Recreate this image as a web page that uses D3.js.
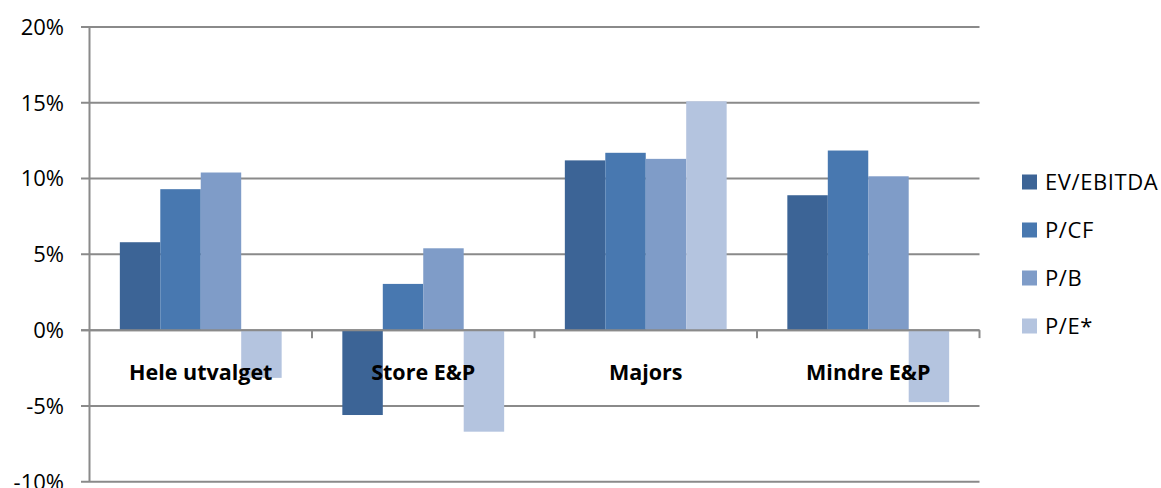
<!DOCTYPE html>
<html>
<head>
<meta charset="utf-8">
<script src="https://cdn.jsdelivr.net/npm/d3@7/dist/d3.min.js"></script>
<style>
  html, body { margin: 0; padding: 0; background: #ffffff; }
  svg { display: block; }
  text { font-family: "Open Sans", "Lato", sans-serif; fill: #000; }
</style>
</head>
<body>
<svg id="chart" width="1161" height="488"></svg>
<script>
// Change in multiples by company group (percent)
const categories = ["Hele utvalget", "Store E&P", "Majors", "Mindre E&P"];
const seriesNames = ["EV/EBITDA", "P/CF", "P/B", "P/E*"];
const evEbitda = [5.8, -5.6, 11.2, 8.9];
const pCf      = [9.3, 3.05, 11.7, 11.85];
const pB       = [10.4, 5.4, 11.3, 10.15];
const pE       = [-3.15, -6.7, 15.1, -4.75];
const yTicks   = [-10, -5, 0, 5, 10, 15, 20];
const colors   = ["#3c6496", "#4878b0", "#7f9cc8", "#b4c4df"];

const seriesValues = [evEbitda, pCf, pB, pE];

const svg = d3.select("#chart");
const plotLeft = 89.5, plotRight = 979.5, plotTop = 27, plotBottom = 481.7;

const y = d3.scaleLinear().domain([-10, 20]).range([plotBottom, plotTop]);
const x0 = d3.scaleBand().domain(categories).range([plotLeft, plotRight]).padding(0);
// 150% gap width: 4 bars + 1.5 bar widths of gap per category
const bw = x0.bandwidth() / 5.5;
const x1 = d3.scaleBand().domain(seriesNames).range([bw * 0.75, bw * 4.75]).padding(0);

// Horizontal gridlines with left tick marks
svg.append("g").selectAll("line").data(yTicks).join("line")
  .attr("x1", 81).attr("x2", plotRight)
  .attr("y1", d => y(d)).attr("y2", d => y(d))
  .attr("stroke", "#8a8a8a").attr("stroke-width", 2);

// Y axis tick labels
svg.append("g").selectAll("text").data(yTicks).join("text")
  .attr("x", 64).attr("y", d => y(d))
  .attr("dy", "0.36em")
  .attr("text-anchor", "end")
  .style("font-size", "22px")
  .text(d => d + "%");

// Bars
const groups = svg.append("g").selectAll("g").data(categories).join("g")
  .attr("transform", d => `translate(${x0(d)},0)`);

groups.selectAll("rect")
  .data((c, ci) => seriesNames.map((s, si) => ({ s, si, v: seriesValues[si][ci] })))
  .join("rect")
  .attr("x", d => x1(d.s))
  .attr("width", x1.bandwidth())
  .attr("y", d => y(Math.max(0, d.v)))
  .attr("height", d => Math.abs(y(d.v) - y(0)))
  .attr("fill", d => colors[d.si]);

// Left axis line
svg.append("line")
  .attr("x1", plotLeft).attr("x2", plotLeft)
  .attr("y1", plotTop).attr("y2", plotBottom)
  .attr("stroke", "#8a8a8a").attr("stroke-width", 2);

// Zero line on top of bars, with category tick marks below it
svg.append("line")
  .attr("x1", 81).attr("x2", plotRight)
  .attr("y1", y(0)).attr("y2", y(0))
  .attr("stroke", "#8a8a8a").attr("stroke-width", 2);

const catEdges = [...categories.map(c => x0(c)), plotRight];
svg.append("g").selectAll("line").data(catEdges.slice(1)).join("line")
  .attr("x1", d => d).attr("x2", d => d)
  .attr("y1", y(0)).attr("y2", y(0) + 8)
  .attr("stroke", "#8a8a8a").attr("stroke-width", 2);

// Category labels
svg.append("g").selectAll("text").data(categories).join("text")
  .attr("x", d => x0(d) + x0.bandwidth() / 2)
  .attr("y", 372)
  .attr("dy", "0.36em")
  .attr("text-anchor", "middle")
  .style("font-size", "21.5px")
  .style("font-weight", "bold")
  .text(d => d);

// Legend
const legend = svg.append("g").selectAll("g").data(seriesNames).join("g")
  .attr("transform", (d, i) => `translate(1022, ${182 + i * 48})`);
legend.append("rect")
  .attr("x", 0).attr("y", -7.5).attr("width", 15).attr("height", 15)
  .attr("fill", (d, i) => colors[i]);
legend.append("text")
  .attr("x", 23).attr("y", 0).attr("dy", "0.36em")
  .style("font-size", "22px")
  .style("letter-spacing", "0.6px")
  .text(d => d);
</script>
</body>
</html>
